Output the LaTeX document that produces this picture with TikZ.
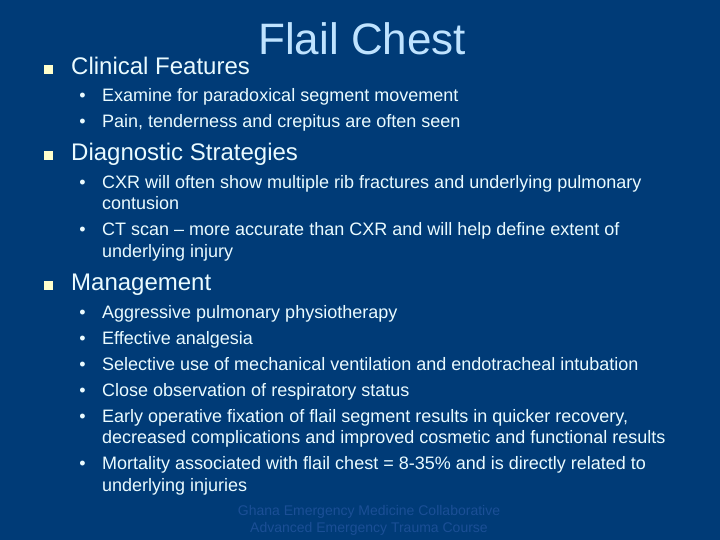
\documentclass[tikz,border=0pt]{standalone}
\usepackage{fontspec}
\setmainfont{Liberation Sans}
\definecolor{slidebg}{HTML}{003B77}
\definecolor{titlecol}{HTML}{BFE3FF}
\definecolor{textcol}{HTML}{EAFBFF}
\definecolor{footcol}{HTML}{1B4F96}
\definecolor{markcol}{HTML}{FFFFCC}
\tikzset{
  heading/.style={anchor=base west,inner sep=0pt,text=textcol,font=\fontsize{24}{26}\selectfont},
  item/.style={anchor=base west,inner sep=0pt,text=textcol,align=left,font=\fontsize{18}{22}\selectfont},
  foot/.style={anchor=base,inner sep=0pt,text=footcol,font=\fontsize{14}{17}\selectfont},
  dot/.style={anchor=base,inner sep=0pt,text=textcol,font=\fontsize{18}{22}\selectfont}
}

\begin{document}
\begin{tikzpicture}[x=1pt,y=-1pt]
\useasboundingbox (0,0) rectangle (720,540);
\fill[slidebg] (0,0) rectangle (720,540);
\node[anchor=base west,inner sep=0pt,text=titlecol,font=\fontsize{44}{48}\selectfont] (title) at (258,55) {Flail Chest};
% square bullets
\foreach \y in {65,151,281}
  \fill[markcol] (44.2,\y) rectangle +(9,9);
\node[heading] (clinical) at (71,75) {Clinical Features};
\node[heading] (diagnostic) at (71,160.5) {Diagnostic Strategies};
\node[heading] (management) at (71,290.5) {Management};
% round bullets
\foreach \y in {102,128,188.5,235.5,318,344,370,396,422,469}
  \node[dot] at (82.5,\y) {•};
\node[item] (examine) at (102,102) {Examine for paradoxical segment movement};
\node[item] (pain) at (102,128) {Pain, tenderness and crepitus are often seen};
\node[item] (cxr) at (102,188.5) {CXR will often show multiple rib fractures and underlying pulmonary};
\node[item] (cxrb) at (102,210) {contusion};
\node[item] (ct) at (102,235.5) {CT scan – more accurate than CXR and will help define extent of};
\node[item] (ctb) at (102,257.5) {underlying injury};
\node[item] (physio) at (102,318) {Aggressive pulmonary physiotherapy};
\node[item] (analgesia) at (102,344) {Effective analgesia};
\node[item] (vent) at (102,370) {Selective use of mechanical ventilation and endotracheal intubation};
\node[item] (observe) at (102,396) {Close observation of respiratory status};
\node[item] (fix) at (102,422) {Early operative fixation of flail segment results in quicker recovery,};
\node[item] (fixb) at (102,443) {decreased complications and improved cosmetic and functional results};
\node[item] (mort) at (102,469) {Mortality associated with flail chest = 8-35\% and is directly related to};
\node[item] (mortb) at (102,491) {underlying injuries};
\node[foot] (foota) at (369,515) {Ghana Emergency Medicine Collaborative};
\node[foot] (footb) at (369,532) {Advanced Emergency Trauma Course};
\end{tikzpicture}
\end{document}
